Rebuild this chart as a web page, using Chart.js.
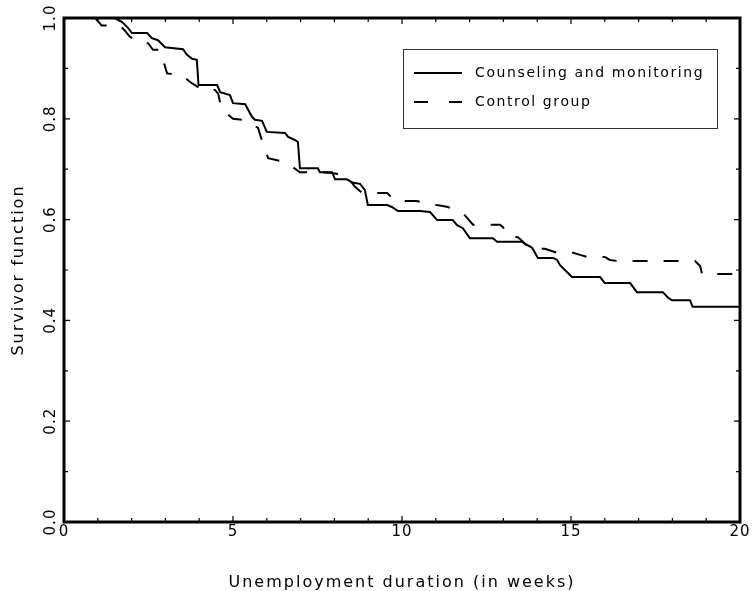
<!DOCTYPE html>
<html>
<head>
<meta charset="utf-8">
<script src="https://cdn.jsdelivr.net/npm/chart.js@4.4.1/dist/chart.umd.min.js"></script>
<style>
  html, body { margin: 0; padding: 0; background: #fff; }
</style>
</head>
<body>
<canvas id="survChart" width="753" height="591"></canvas>
<script>
// survivor curves (weeks, survivor function)
const counselWeeks = [0, 1.5, 1.72, 1.9, 2.01, 2.46, 2.6, 2.78, 2.99, 3.52, 3.64, 3.79, 3.93, 3.98,
  4.53, 4.62, 4.91, 5.0, 5.36, 5.56, 5.65, 5.86, 6.0, 6.54, 6.63, 6.83, 6.92, 6.98, 7.51, 7.57,
  7.93, 8.02, 8.37, 8.55, 8.76, 8.9, 8.99, 9.56, 9.7, 9.88, 10.53, 10.83, 11.04, 11.5, 11.63,
  11.8, 12.01, 12.69, 12.81, 13.55, 13.7, 13.85, 14.02, 14.47, 14.59, 14.67, 14.82, 15.03,
  15.86, 16.0, 16.75, 16.95, 17.72, 17.87, 17.99, 18.52, 18.6, 20];
const counselSurv = [1.0, 1.0, 0.992, 0.98, 0.97, 0.97, 0.96, 0.956, 0.942, 0.938, 0.927, 0.919, 0.917, 0.867,
  0.867, 0.853, 0.847, 0.831, 0.829, 0.804, 0.798, 0.796, 0.774, 0.772, 0.764, 0.758, 0.754, 0.702, 0.702, 0.694,
  0.694, 0.68, 0.68, 0.673, 0.671, 0.659, 0.629, 0.629, 0.625, 0.617, 0.617, 0.615, 0.599, 0.599, 0.589,
  0.583, 0.563, 0.563, 0.556, 0.556, 0.55, 0.544, 0.524, 0.524, 0.52, 0.51, 0.5, 0.486,
  0.486, 0.474, 0.474, 0.456, 0.456, 0.445, 0.44, 0.44, 0.427, 0.427];

const controlWeeks = [0, 0.92, 1.12, 1.66, 1.8, 1.95, 2.25, 2.49, 2.63, 2.84, 2.93, 3.05, 3.49, 3.73,
  4.11, 4.47, 4.56, 4.67, 4.82, 5.0, 5.41, 5.55, 5.74, 5.89, 6.04, 6.54, 6.75, 6.98, 7.87, 8.17,
  8.37, 8.61, 8.82, 9.56, 9.79, 10.44, 10.68, 11.12, 11.36, 11.8, 12.1, 12.9, 12.99, 13.14, 13.43,
  13.58, 13.79, 14.23, 14.59, 15.06, 15.27, 15.47, 16.0, 16.15, 16.36, 18.67, 18.82, 18.88, 20];
const controlSurv = [1.0, 1.0, 0.985, 0.985, 0.975, 0.963, 0.95, 0.95, 0.937, 0.937, 0.917, 0.89, 0.887, 0.873,
  0.857, 0.857, 0.85, 0.817, 0.81, 0.80, 0.797, 0.79, 0.782, 0.75, 0.722, 0.714, 0.705, 0.694, 0.693, 0.69,
  0.686, 0.665, 0.653, 0.653, 0.637, 0.637, 0.632, 0.628, 0.625, 0.613, 0.59, 0.59, 0.585, 0.567, 0.565,
  0.556, 0.542, 0.542, 0.534, 0.534, 0.53, 0.526, 0.526, 0.52, 0.518, 0.518, 0.508, 0.492, 0.492];

const seriesLabels = ['Counseling and monitoring', 'Control group'];
const yTickValues = [0, 0.2, 0.4, 0.6, 0.8, 1.0];
const yTickLabels = ['0.0', '0.2', '0.4', '0.6', '0.8', '1.0'];
const xTitle = 'Unemployment duration (in weeks)';
const yTitle = 'Survivor function';

const FONT = '"DejaVu Sans", sans-serif';
const toPoints = (xs, ys) => xs.map((v, i) => ({ x: v, y: ys[i] }));

// frame, inward ticks, y labels, axis titles and the boxed legend
const decorPlugin = {
    id: 'decor',
    beforeDraw(chart) {
        chart.ctx.letterSpacing = '1px';
    },
    afterDatasetsDraw(chart) {
        const { ctx, chartArea: a, scales: { x, y } } = chart;
        ctx.save();
        ctx.strokeStyle = '#000';
        ctx.fillStyle = '#000';

        // minor + major ticks pointing inward on all four sides
        ctx.lineWidth = 1.2;
        ctx.beginPath();
        for (let w = x.min; w <= x.max; w += 1) {
            const px = x.getPixelForValue(w);
            const len = w % 5 === 0 ? 6 : 4;
            ctx.moveTo(px, a.bottom); ctx.lineTo(px, a.bottom - len);
            ctx.moveTo(px, a.top); ctx.lineTo(px, a.top + len);
        }
        for (let k = 0; k <= 10; k++) {
            const py = y.getPixelForValue(k / 10);
            const len = k % 2 === 0 ? 6 : 4;
            ctx.moveTo(a.left, py); ctx.lineTo(a.left + len, py);
            ctx.moveTo(a.right, py); ctx.lineTo(a.right - len, py);
        }
        ctx.stroke();

        ctx.lineWidth = 3;
        ctx.strokeRect(a.left, a.top, a.right - a.left, a.bottom - a.top);

        // rotated y tick labels
        ctx.font = '15px ' + FONT;
        ctx.letterSpacing = '1px';
        ctx.textAlign = 'center';
        ctx.textBaseline = 'middle';
        yTickValues.forEach((v, i) => {
            ctx.save();
            ctx.translate(a.left - 13, y.getPixelForValue(v));
            ctx.rotate(-Math.PI / 2);
            ctx.fillText(yTickLabels[i], 0, 0);
            ctx.restore();
        });

        // axis titles
        ctx.font = '16px ' + FONT;
        ctx.letterSpacing = '2px';
        ctx.fillText(xTitle, (a.left + a.right) / 2, a.bottom + 61);
        ctx.save();
        ctx.translate(a.left - 45, (a.top + a.bottom) / 2);
        ctx.rotate(-Math.PI / 2);
        ctx.fillText(yTitle, 0, 0);
        ctx.restore();

        // legend box
        const bx = a.left + 339, by = a.top + 31, bw = 314, bh = 79;
        ctx.lineWidth = 1;
        ctx.strokeStyle = '#333';
        ctx.strokeRect(bx + 0.5, by + 0.5, bw, bh);
        ctx.strokeStyle = '#000';
        ctx.font = '14px ' + FONT;
        ctx.letterSpacing = '1.6px';
        ctx.textAlign = 'left';
        chart.data.datasets.forEach((ds, i) => {
            const ly = by + 24 + i * 29;
            ctx.lineWidth = 2;
            ctx.setLineDash(i === 0 ? [] : [14, 21]);
            ctx.beginPath();
            ctx.moveTo(bx + 11, ly);
            ctx.lineTo(bx + 59, ly);
            ctx.stroke();
            ctx.setLineDash([]);
            ctx.fillText(ds.label, bx + 72, ly);
        });
        ctx.restore();
    }
};

const ctx = document.getElementById('survChart').getContext('2d');
const chart = new Chart(ctx, {
    type: 'line',
    data: {
        datasets: [{
            label: seriesLabels[0],
            data: toPoints(counselWeeks, counselSurv),
            borderColor: '#000',
            borderWidth: 2,
            pointRadius: 0,
            tension: 0,
            fill: false
        }, {
            label: seriesLabels[1],
            data: toPoints(controlWeeks, controlSurv),
            borderColor: '#000',
            borderWidth: 2,
            borderDash: [15, 16],
            pointRadius: 0,
            tension: 0,
            fill: false
        }]
    },
    options: {
        responsive: false,
        animation: false,
        layout: { padding: { top: 18, right: 13, left: 0, bottom: 0 } },
        plugins: {
            legend: { display: false },
            tooltip: { enabled: false }
        },
        scales: {
            x: {
                type: 'linear',
                min: 0,
                max: 20,
                grid: { display: false, drawTicks: false },
                border: { display: false },
                ticks: {
                    stepSize: 5,
                    maxRotation: 0,
                    autoSkip: false,
                    padding: 1,
                    color: '#000',
                    font: { family: FONT, size: 15 }
                },
                afterFit(scale) { scale.height = 69; }
            },
            y: {
                type: 'linear',
                min: 0,
                max: 1,
                grid: { display: false, drawTicks: false },
                border: { display: false },
                ticks: { display: false },
                afterFit(scale) { scale.width = 64; }
            }
        }
    },
    plugins: [decorPlugin]
});
</script>
</body>
</html>
